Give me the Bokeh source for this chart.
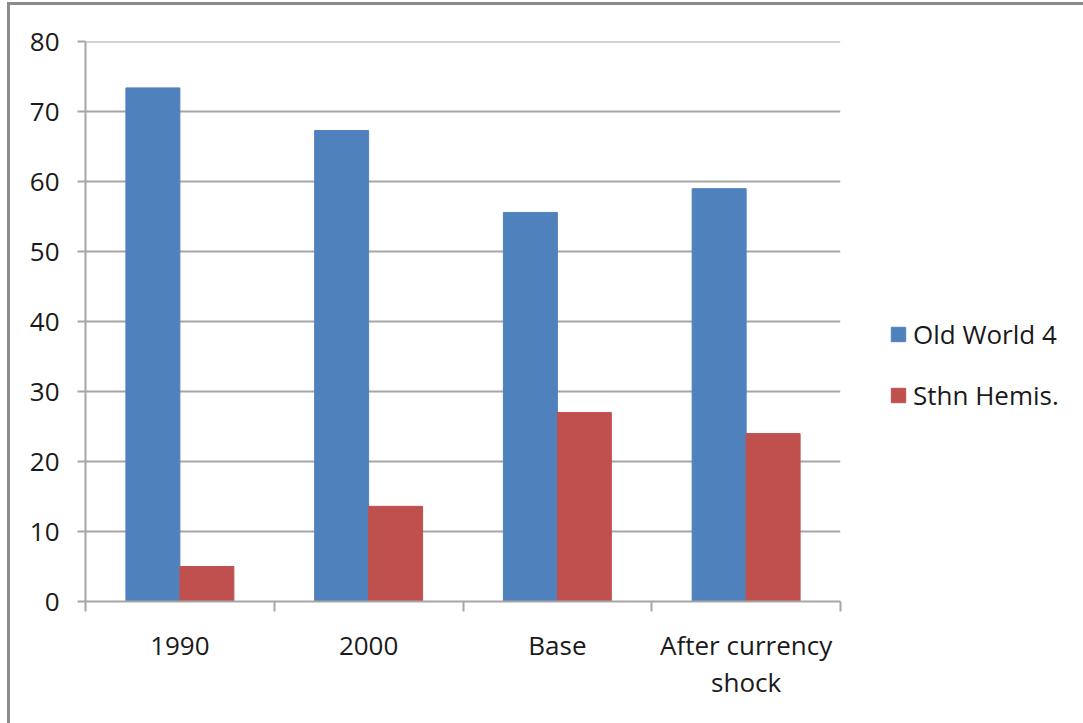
from bokeh.plotting import figure
from bokeh.models import (ColumnDataSource, Range1d, FixedTicker, Legend, LegendItem)
from bokeh.transform import dodge
from bokeh.embed import file_html
from bokeh.resources import INLINE

categories = ["1990", "2000", "Base", "After currency\nshock"]
old_world_4 = [73.4, 67.3, 55.6, 59.0]
sthn_hemis = [5.0, 13.6, 27.0, 24.0]
y_ticks = [0, 10, 20, 30, 40, 50, 60, 70, 80]

FONT = "Open Sans"
GRID = "#a6a6a6"

pos = [i + 0.5 for i in range(len(categories))]
src = ColumnDataSource(dict(x=pos, old=old_world_4, sthn=sthn_hemis))

p = figure(frame_width=755, frame_height=560, output_backend="svg", toolbar_location=None,
           x_range=Range1d(0, len(categories)), y_range=Range1d(0, 80.03),
           min_border_left=75, min_border_right=243, min_border_top=36, min_border_bottom=122)
p.styles = {"border-left": "3px solid #8c8c8c", "border-top": "3px solid #8c8c8c",
            "margin-left": "7px", "margin-top": "2px"}
p.outline_line_color = None
p.background_fill_color = "white"
p.border_fill_color = "white"

bw = 0.286
r1 = p.vbar(x=dodge("x", -bw / 2, range=p.x_range), top="old", width=bw, source=src,
            fill_color="#4F81BD", line_color="#4F81BD")
r2 = p.vbar(x=dodge("x", bw / 2, range=p.x_range), top="sthn", width=bw, source=src,
            fill_color="#C0504D", line_color="#C0504D")

# x axis
xa = p.xaxis[0]
xa.ticker = FixedTicker(ticks=pos, minor_ticks=list(range(len(categories) + 1)))
xa.major_label_overrides = {pv: c for pv, c in zip(pos, categories)}
xa.major_tick_out = 0
xa.major_tick_in = 0
xa.minor_tick_out = 10
xa.minor_tick_in = 0
xa.minor_tick_line_color = GRID
xa.minor_tick_line_width = 2
xa.axis_line_color = GRID
xa.axis_line_width = 2
xa.major_label_standoff = 15
xa.major_label_text_font = FONT
xa.major_label_text_font_size = "26px"
xa.major_label_text_line_height = 1.03
xa.major_label_text_color = "#1a1a1a"
p.xgrid.grid_line_color = None

# y axis
ya = p.yaxis[0]
ya.ticker = FixedTicker(ticks=y_ticks)
ya.minor_tick_line_color = None
ya.major_tick_out = 8
ya.major_tick_in = 0
ya.major_tick_line_color = GRID
ya.major_tick_line_width = 2
ya.axis_line_color = GRID
ya.axis_line_width = 2
ya.major_label_standoff = 18
ya.major_label_text_font = FONT
ya.major_label_text_font_size = "26px"
ya.major_label_text_color = "#1a1a1a"
p.ygrid.grid_line_color = GRID
p.ygrid.grid_line_width = 2

legend = Legend(items=[LegendItem(label="Old World 4", renderers=[r1]),
                       LegendItem(label="Sthn Hemis.", renderers=[r2])],
                location=(49, 188), orientation="vertical")
legend.label_text_font = FONT
legend.label_text_font_size = "26px"
legend.label_text_color = "#1a1a1a"
legend.glyph_width = 18
legend.glyph_height = 18
legend.label_standoff = 6
legend.spacing = 25
legend.padding = 0
legend.margin = 0
legend.border_line_color = None
legend.background_fill_alpha = 0
p.add_layout(legend, "right")

open("out.html", "w").write(file_html(p, INLINE))
